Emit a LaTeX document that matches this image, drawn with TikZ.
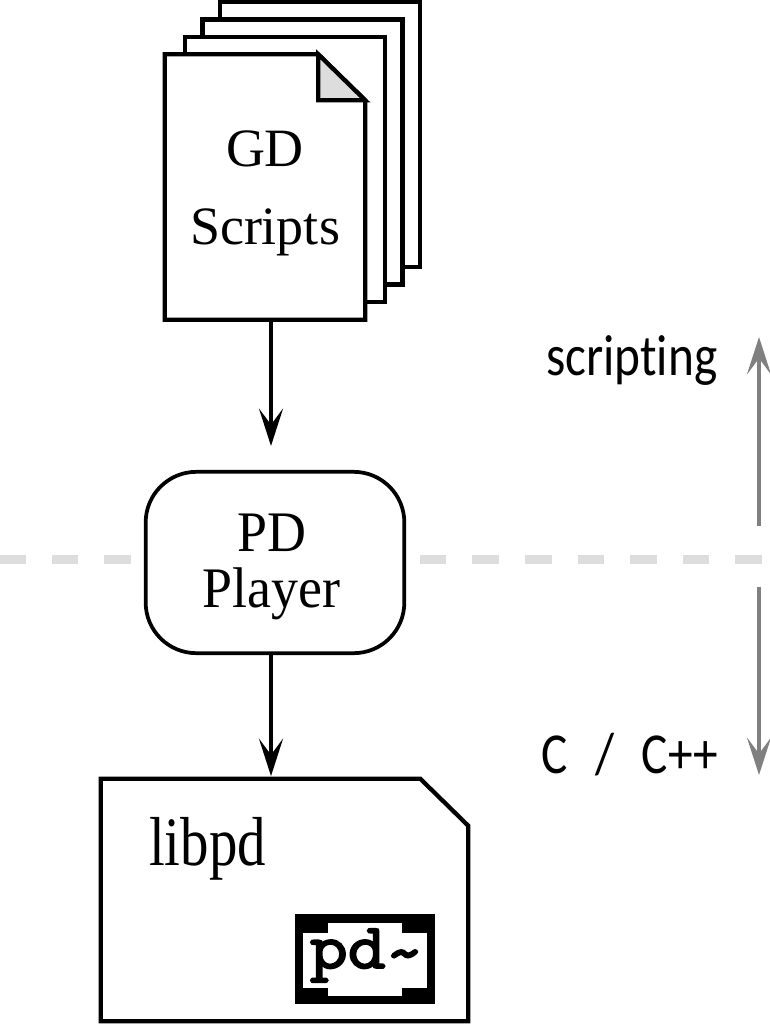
\documentclass[tikz,border=0pt]{standalone}
\usepackage{fontspec}
\usepackage{xcolor}
\usepackage{tikz}
\usetikzlibrary{arrows.meta}
\usetikzlibrary{calc}
\setmainfont{Liberation Serif}
\newfontfamily\pdfont[FakeBold=3, FakeStretch=1.15]{Latin Modern Mono}
\newfontfamily\handfont[FakeStretch=0.85, Ligatures=NoCommon]{Carlito}
\newfontfamily\tallfont[FakeStretch=0.82]{Liberation Serif}
\newfontfamily\playerfont[FakeStretch=0.94]{Liberation Serif}
\definecolor{foldgray}{HTML}{DDDDDD}
\definecolor{axisgray}{HTML}{808080}
\tikzset{
	sheet/.style={draw=black, fill=white, line width=3.2pt, minimum width=150pt, minimum height=198.6pt},
	flow/.style={draw=black, line width=3.2pt, -{Stealth[length=28pt, width=18pt, inset=12pt]}},
	level/.style={draw=axisgray, line width=3.5pt, -{Stealth[length=28pt, width=18pt, inset=12pt]}},
	serifname/.style={font=\fontsize{40.5pt}{42pt}\selectfont, align=center, inner sep=0pt},
	handname/.style={font=\handfont\fontsize{43.5pt}{46pt}\selectfont, anchor=base, inner sep=0pt}
}
\begin{document}
\begin{tikzpicture}[x=0.75pt, y=-0.75pt]
	\useasboundingbox (0,0) rectangle (770,1024);
	\draw[foldgray, line width=6.75pt, dash pattern=on 19.9pt off 19.55pt] (-1,559.3) -- (770,559.3);
	\coordinate (axis) at (271,0);

	\foreach \x/\y/\iSheet in {320/134.5/4, 302.5/152/3, 285/169.5/2}
	{
		\node[sheet] (sheet\iSheet) at (\x,\y) {};
	}
	\node[minimum width=150pt, minimum height=198.6pt, inner sep=0pt] (sheet1) at (265,187) {};
	\draw[fill=white, line width=3.2pt, miter limit=10] (sheet1.north west) -- ($(sheet1.north east)+(-47,0)$) -- ($(sheet1.north east)+(0,46)$) -- (sheet1.south east) -- (sheet1.south west) -- cycle;
	\draw[fill=foldgray, line width=3.2pt, line join=miter] ($(sheet1.north east)+(-47,0)$) -- ($(sheet1.north east)+(-47,46)$) -- ($(sheet1.north east)+(0,46)$) -- cycle;
	\node[serifname, font=\fontsize{40.5pt}{58.5pt}\selectfont] (gdlabel) at (265,193.5) {GD\\Scripts};

	\node[draw=black, fill=white, line width=2.8pt, rounded corners=38pt, minimum width=194pt, minimum height=136pt] (player) at (275,562.5) {};
	\node[serifname, font=\playerfont\fontsize{43pt}{42pt}\selectfont] (playerlabel) at (271.7,567) {PD\\Player};

	\node[minimum width=275.25pt, minimum height=181.5pt, inner sep=0pt] (libpd) at (284.5,900) {};
	\draw[line width=3.2pt] (libpd.north west) -- ($(libpd.north east)+(-48,0)$) -- ($(libpd.north east)+(0,47)$) -- (libpd.south east) -- (libpd.south west) -- cycle;
	\node[serifname, anchor=base, font=\tallfont\fontsize{52pt}{54pt}\selectfont] (libpdlabel) at (207.5,865) {libpd};

	\node[fill=black, minimum width=105pt, minimum height=67.5pt, inner sep=0pt] (pdobject) at (365,959.3) {};
	\fill[white] (303.3,933.3) rectangle (426.7,988.3);
	\fill[white] (328.3,922.7) rectangle (401.7,996);
	\node[anchor=base, inner sep=0pt, font=\pdfont\fontsize{48pt}{50pt}\selectfont] (pdlabel) at (366.7,968) {pd\raisebox{-4pt}{\textasciitilde}};

	\draw[flow, shorten >=18pt] (sheet1.south -| axis) -- (player.north -| axis);
	\draw[flow, shorten >=2pt] (player.south -| axis) -- (libpd.north -| axis);

	\node[handname] (scripting) at (631.7,375) {scripting};
	\node[handname] (clabel) at (629.7,773) {C\hspace{0.28em} / \hspace{0.28em}C++};
	\coordinate (uptail) at (759,526);
	\coordinate (uphead) at (759,337);
	\coordinate (downtail) at (759,587);
	\coordinate (downhead) at (759,775);
	\draw[level] (uptail) -- (uphead);
	\draw[level] (downtail) -- (downhead);
\end{tikzpicture}
\end{document}
